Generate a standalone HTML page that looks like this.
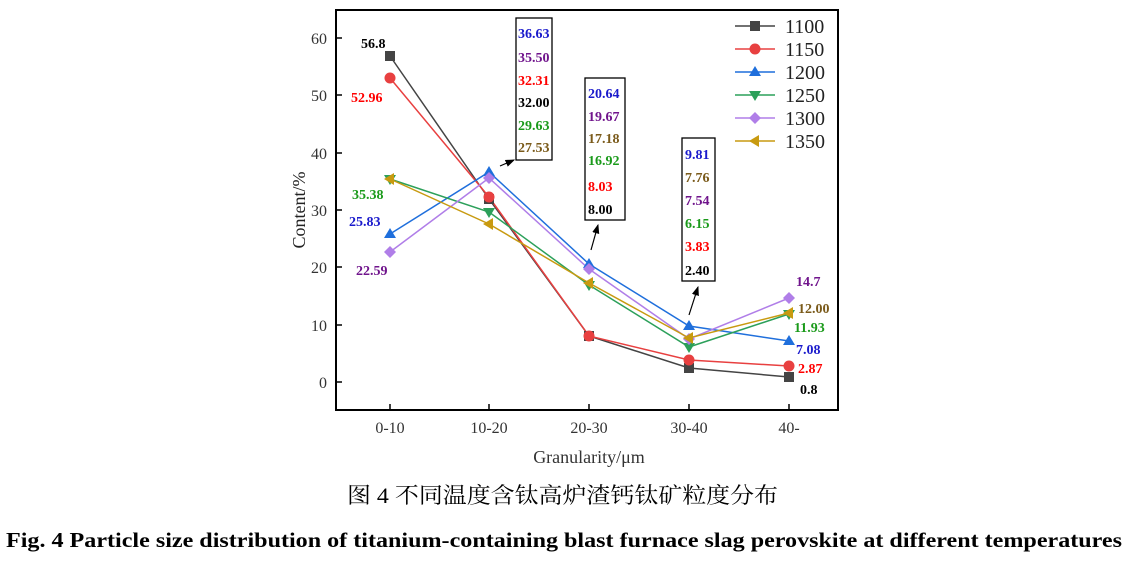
<!DOCTYPE html>
<html><head><meta charset="utf-8"><style>
body{margin:0;background:#fff;width:1134px;height:561px;overflow:hidden}
</style></head><body>
<svg width="1134" height="561" xmlns="http://www.w3.org/2000/svg" font-family="Liberation Serif, serif">
<defs><marker id="ar" markerWidth="8" markerHeight="8" refX="7" refY="4" orient="auto"><path d="M0,1 L8,4 L0,7 Z" fill="#000"/></marker></defs>
<rect x="336" y="10" width="502" height="400" fill="none" stroke="#000" stroke-width="2"/>
<g font-size="16" fill="#333" text-anchor="end">
<text x="327" y="388">0</text><text x="327" y="331">10</text><text x="327" y="273">20</text><text x="327" y="216">30</text><text x="327" y="159">40</text><text x="327" y="101">50</text><text x="327" y="44">60</text>
</g>
<g stroke="#000" stroke-width="1.5">
<line x1="336" y1="382" x2="342" y2="382"/><line x1="336" y1="325" x2="342" y2="325"/><line x1="336" y1="267" x2="342" y2="267"/><line x1="336" y1="210" x2="342" y2="210"/><line x1="336" y1="153" x2="342" y2="153"/><line x1="336" y1="95" x2="342" y2="95"/><line x1="336" y1="38" x2="342" y2="38"/>
<line x1="390" y1="410" x2="390" y2="404"/><line x1="489" y1="410" x2="489" y2="404"/><line x1="589" y1="410" x2="589" y2="404"/><line x1="689" y1="410" x2="689" y2="404"/><line x1="789" y1="410" x2="789" y2="404"/>
</g>
<g font-size="16" fill="#333" text-anchor="middle">
<text x="390" y="433">0-10</text><text x="489" y="433">10-20</text><text x="589" y="433">20-30</text><text x="689" y="433">30-40</text><text x="789" y="433">40-</text>
<text x="589" y="463" font-size="18">Granularity/μm</text>
</g>
<text transform="translate(305,210) rotate(-90)" font-size="18" text-anchor="middle" fill="#222">Content/%</text>
<g fill="none" stroke-width="1.5">
<polyline stroke="#444" points="390,56 489,199 589,336 689,368 789,377"/>
<polyline stroke="#e84040" points="390,78 489,197 589,336 689,360 789,366"/>
<polyline stroke="#1f6fdc" points="390,234 489,172 589,264 689,326 789,341"/>
<polyline stroke="#2ca05a" points="390,179 489,212 589,285 689,347 789,314"/>
<polyline stroke="#b07ee8" points="390,252 489,178 589,269 689,339 789,298"/>
<polyline stroke="#c89a10" points="390,179 489,224 589,283 689,338 789,313"/>
</g>
<g>
<g fill="#444"><rect x="385" y="51" width="10" height="10"/><rect x="484" y="194" width="10" height="10"/><rect x="584" y="331" width="10" height="10"/><rect x="684" y="363" width="10" height="10"/><rect x="784" y="372" width="10" height="10"/></g>
<g fill="#e84040"><circle cx="390" cy="78" r="5.5"/><circle cx="489" cy="197" r="5.5"/><circle cx="589" cy="336" r="5.5"/><circle cx="689" cy="360" r="5.5"/><circle cx="789" cy="366" r="5.5"/></g>
<g fill="#1f6fdc"><path d="M390,228 l6,10 h-12z"/><path d="M489,166 l6,10 h-12z"/><path d="M589,258 l6,10 h-12z"/><path d="M689,320 l6,10 h-12z"/><path d="M789,335 l6,10 h-12z"/></g>
<g fill="#2ca05a"><path d="M390,185 l6,-10 h-12z"/><path d="M489,218 l6,-10 h-12z"/><path d="M589,291 l6,-10 h-12z"/><path d="M689,353 l6,-10 h-12z"/><path d="M789,320 l6,-10 h-12z"/></g>
<g fill="#b07ee8"><path d="M390,246 l6,6 l-6,6 l-6,-6z"/><path d="M489,172 l6,6 l-6,6 l-6,-6z"/><path d="M589,263 l6,6 l-6,6 l-6,-6z"/><path d="M689,333 l6,6 l-6,6 l-6,-6z"/><path d="M789,292 l6,6 l-6,6 l-6,-6z"/></g>
<g fill="#c89a10"><path d="M384,179 l10,-6 v12z"/><path d="M483,224 l10,-6 v12z"/><path d="M583,283 l10,-6 v12z"/><path d="M683,338 l10,-6 v12z"/><path d="M783,313 l10,-6 v12z"/></g>
</g>
<g font-size="14" font-weight="bold">
<text x="361" y="48" fill="#000">56.8</text>
<text x="351" y="102" fill="#ff0000">52.96</text>
<text x="352" y="199" fill="#1a9a1a">35.38</text>
<text x="349" y="226" fill="#1a1acc">25.83</text>
<text x="356" y="275" fill="#70148c">22.59</text>
<rect x="516" y="18" width="36" height="142" fill="none" stroke="#000" stroke-width="1.3"/>
<text x="518" y="38" fill="#1a1acc">36.63</text><text x="518" y="62" fill="#70148c">35.50</text><text x="518" y="85" fill="#ff0000">32.31</text><text x="518" y="107" fill="#000">32.00</text><text x="518" y="130" fill="#1a9a1a">29.63</text><text x="518" y="152" fill="#7a5a1a">27.53</text>
<rect x="585" y="78" width="40" height="142" fill="none" stroke="#000" stroke-width="1.3"/>
<text x="588" y="98" fill="#1a1acc">20.64</text><text x="588" y="121" fill="#70148c">19.67</text><text x="588" y="143" fill="#7a5a1a">17.18</text><text x="588" y="165" fill="#1a9a1a">16.92</text><text x="588" y="191" fill="#ff0000">8.03</text><text x="588" y="214" fill="#000">8.00</text>
<rect x="682" y="138" width="33" height="143" fill="none" stroke="#000" stroke-width="1.3"/>
<text x="685" y="159" fill="#1a1acc">9.81</text><text x="685" y="182" fill="#7a5a1a">7.76</text><text x="685" y="205" fill="#70148c">7.54</text><text x="685" y="228" fill="#1a9a1a">6.15</text><text x="685" y="251" fill="#ff0000">3.83</text><text x="685" y="275" fill="#000">2.40</text>
<text x="796" y="286" fill="#70148c">14.7</text>
<text x="798" y="313" fill="#7a5a1a">12.00</text>
<text x="794" y="332" fill="#1a9a1a">11.93</text>
<text x="796" y="354" fill="#1a1acc">7.08</text>
<text x="798" y="373" fill="#ff0000">2.87</text>
<text x="800" y="394" fill="#000">0.8</text>
</g>
<g stroke="#000" stroke-width="1.2" fill="none" marker-end="url(#ar)">
<line x1="500" y1="166" x2="514" y2="160"/>
<line x1="591" y1="250" x2="598" y2="225"/>
<line x1="689" y1="315" x2="698" y2="287"/>
</g>
<g font-size="20" fill="#222" stroke-width="1.5">
<line x1="735" y1="26" x2="775" y2="26" stroke="#444"/><rect x="750" y="21" width="10" height="10" fill="#444"/><text x="785" y="33">1100</text>
<line x1="735" y1="49" x2="775" y2="49" stroke="#e84040"/><circle cx="755" cy="49" r="5.5" fill="#e84040"/><text x="785" y="56">1150</text>
<line x1="735" y1="72" x2="775" y2="72" stroke="#1f6fdc"/><path d="M755,66 l6,10 h-12z" fill="#1f6fdc"/><text x="785" y="79">1200</text>
<line x1="735" y1="95" x2="775" y2="95" stroke="#2ca05a"/><path d="M755,101 l6,-10 h-12z" fill="#2ca05a"/><text x="785" y="102">1250</text>
<line x1="735" y1="118" x2="775" y2="118" stroke="#b07ee8"/><path d="M755,112 l6,6 l-6,6 l-6,-6z" fill="#b07ee8"/><text x="785" y="125">1300</text>
<line x1="735" y1="141" x2="775" y2="141" stroke="#c89a10"/><path d="M749,141 l10,-6 v12z" fill="#c89a10"/><text x="785" y="148">1350</text>
</g>
<text x="347" y="503" font-size="22" textLength="431" lengthAdjust="spacingAndGlyphs" font-family="Liberation Serif, Noto Serif CJK SC, serif" fill="#000">图 4 不同温度含钛高炉渣钙钛矿粒度分布</text>
<text x="6" y="547" font-size="21" font-weight="bold" textLength="1116" lengthAdjust="spacingAndGlyphs" fill="#000">Fig. 4  Particle size distribution of titanium-containing blast furnace slag perovskite at different temperatures</text>
</svg>
</body></html>
